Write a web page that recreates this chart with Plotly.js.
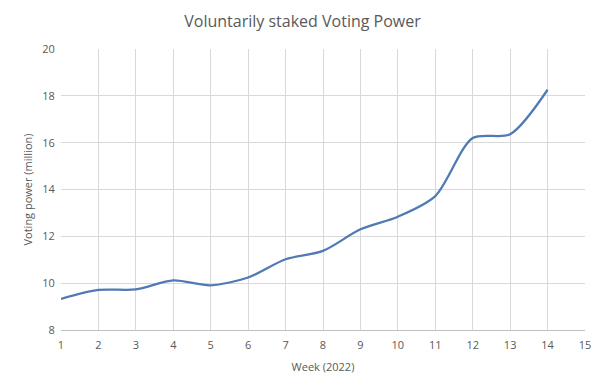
<!DOCTYPE html>
<html>
<head>
<meta charset="utf-8">
<script src="https://cdn.plot.ly/plotly-3.0.1.min.js"></script>
<style>html,body{margin:0;padding:0;background:#fff;}#chart{width:605px;height:389px;}</style>
</head>
<body>
<div id="chart"></div>
<script>
const weeks = [1, 2, 3, 4, 5, 6, 7, 8, 9, 10, 11, 12, 13, 14];
const votingPower = [9.33, 9.71, 9.73, 10.12, 9.91, 10.24, 11.02, 11.38, 12.3, 12.84, 13.72, 16.2, 16.36, 18.26];
const xTicks = [1, 2, 3, 4, 5, 6, 7, 8, 9, 10, 11, 12, 13, 14, 15];
const yTicks = [8, 10, 12, 14, 16, 18, 20];

const fontFam = "'Open Sans', 'Liberation Sans', sans-serif";
const trace = {
  x: weeks, y: votingPower, type: 'scatter', mode: 'lines',
  line: {color: '#4f7ab3', width: 2.25, shape: 'spline', smoothing: 0.8},
  hoverinfo: 'skip'
};
const layout = {
  width: 605, height: 389,
  margin: {l: 61, r: 20, t: 49, b: 59},
  paper_bgcolor: '#ffffff', plot_bgcolor: '#ffffff',
  showlegend: false,
  title: {text: 'Voluntarily staked Voting Power', x: 0.5, xanchor: 'center', y: 0.945, yanchor: 'middle',
          font: {family: fontFam, size: 16, color: '#595959'}},
  xaxis: {
    range: [1, 15], tickvals: xTicks, ticktext: xTicks.map(String),
    showgrid: true, gridcolor: '#d9d9d9', gridwidth: 1,
    showline: true, linecolor: '#bfbfbf', linewidth: 1,
    zeroline: false, ticks: 'outside', ticklen: 5, tickcolor: 'rgba(0,0,0,0)',
    tickfont: {family: fontFam, size: 11, color: '#595959'},
    title: {text: 'Week (2022)', font: {family: fontFam, size: 11, color: '#595959'}, standoff: 12}
  },
  yaxis: {
    range: [8, 20], tickvals: yTicks, ticktext: yTicks.map(String),
    showgrid: true, gridcolor: '#d9d9d9', gridwidth: 1,
    showline: false, zeroline: false, ticks: 'outside', ticklen: 3, tickcolor: 'rgba(0,0,0,0)',
    tickfont: {family: fontFam, size: 11, color: '#595959'},
    title: {text: 'Voting power (million)', font: {family: fontFam, size: 11, color: '#595959'}, standoff: 7}
  }
};
Plotly.newPlot('chart', [trace], layout, {staticPlot: true, displayModeBar: false});
</script>
</body>
</html>
